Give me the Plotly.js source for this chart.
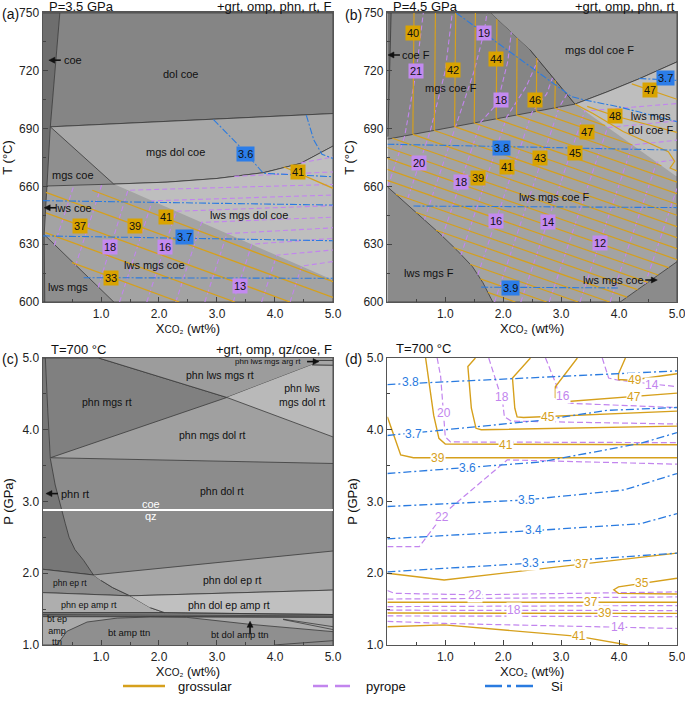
<!DOCTYPE html>
<html>
<head>
<meta charset="utf-8">
<script src="https://cdn.plot.ly/plotly-3.0.1.min.js"></script>
<style>html,body{margin:0;padding:0;background:#fff}#chart{width:685px;height:701px}</style>
</head>
<body>
<div id="chart"></div>
<script>
// ---------- (a) P = 3.5 GPa : [XCO2 wt%, T °C] ----------
var aLwsMgsCoe = [[0,600],[5,600],[5,750],[0,750]];
var aDolCoe = [[0.29,750],[5,750],[5,697.8],[0.126,690.9]];
var aMgsDolCoe = [[0.126,690.9],[5,697.8],[5,680.9],[4.44,671.9],[3.8,667.1],[3.0,664.1],[2.14,662.2],[1.22,661.2]];
var aMgsCoe = [[0.126,690.9],[1.22,661.2],[0.07,660.2]];
var aLwsMgsDolCoe = [[1.22,661.2],[2.14,662.2],[3.0,664.1],[3.8,667.1],[4.44,671.9],[5,680.9],[5,611.4]];
var aLwsMgs = [[0.02,635],[1.22,600],[0.03,600]];
var aStrip = [[0,750],[0.29,750],[0.126,690.9],[0.07,660.2],[0.02,635],[0.03,600],[0,600]];

var aGrs = [
  [[0.85,658],[5,610.5]],
  [[0.05,656.9],[5,602.4]],
  [[0.05,646.3],[4.26,600]],
  [[0.04,636],[3.31,600]],
  [[0.5,620.4],[2.35,600]],
  [[4.15,670.2],[5,659]]
];
var aPrp = [
  [[0.195,629.3],[0.53,660.3]],
  [[0.56,618.8],[1.01,660.6]],
  [[0.95,607.5],[1.464,658],[5,661]],
  [[1.32,600],[1.884,652.5],[5,655.5]],
  [[1.79,600],[2.296,647.1],[5,650]],
  [[2.29,600],[2.734,641.3],[5,644]],
  [[2.79,600],[3.172,635.5],[5,638.5]],
  [[3.28,600],[3.601,630],[5,633]],
  [[3.77,600],[4.03,624.3],[5,627]],
  [[4.26,600],[4.459,618.6],[5,621]],
  [[3.3,665.2],[5,667.5]],
  [[4.45,672.2],[5,675.3]]
];
var aSi = [
  [[2.94,694.7],[3.4,680.5],[3.8,666.8],[5,665]],
  [[4.54,697],[4.67,684],[4.81,676.7],[5,674.5]],
  [[0,652.6],[5,650.3]],
  [[0,634.3],[5,631.8]],
  [[0.7,612.6],[5,612.3]]
];
var aGrsLab = [['37',0.64,639.4],['39',1.59,639.6],['41',2.12,643.9],['33',1.18,612.4],['41',4.40,667.6]];
var aPrpLab = [['18',1.16,628.3],['16',2.10,628.7],['13',3.39,608.3]];
var aSiLab = [['3.6',3.49,677],['3.7',2.44,633.5]];
var aText = [['dol coe',2.37,718.2],['mgs dol coe',2.29,677.6],['mgs coe',0.52,665.9],
  ['lws mgs dol coe',3.55,645],['lws mgs coe',1.93,619.3],['lws mgs',0.43,607.9]];

// ---------- (b) P = 4.5 GPa ----------
var bLwsMgsCoeF = [[0,600],[5,600],[5,750],[0,750]];
var bMgsCoeF = [[0,750],[1.79,750],[2.46,731],[3.24,702.7],[0,684.5]];
var bMgsDolCoeF = [[1.79,750],[5,750],[5,724.6],[4.36,716],[3.79,709],[3.24,702.7],[2.46,731]];
var bLwsMgsDolCoeF = [[3.24,702.7],[3.79,709],[4.36,716],[5,724.6],[5,665]];
var bLwsMgsF = [[0,659.8],[0.45,647.7],[0.9,635.6],[1.2,626.9],[1.47,618.3],[1.65,610],[1.82,600],[0,600]];
var bCorner = [[4.02,600],[5,620.9],[5,600]];
var bStrip = [[0,750],[0.065,750],[0.01,686],[0,686]];

var bGrs = [
  [[0.46,750],[0.44,687]], [[0.83,750],[0.81,689]], [[1.18,750],[1.16,691]], [[1.52,750],[1.5,692.9]],
  [[1.89,746.7],[1.88,695]], [[2.24,737],[2.23,697]], [[2.58,726.6],[2.57,698.9]], [[2.9,715],[2.89,700.7]],
  [[2.89,700.7],[3.76,691.5]], [[2.57,698.9],[4.23,681.5]], [[2.23,697],[4.73,670.7]],
  [[1.88,695],[5,662.2]], [[1.5,692.9],[5,656.2]], [[1.16,691],[5,650.7]], [[0.81,689],[5,645]],
  [[0.44,687],[5,639.1]], [[0.087,685],[5,633.4]], [[0,680.2],[5,627.7]], [[0,674.5],[5,622]],
  [[0,668.8],[4.855,617.8]], [[0,663.1],[4.676,614]], [[0.146,655.9],[4.497,610.2]],
  [[0.49,646.6],[4.318,606.4]], [[0.84,637.2],[4.138,602.5]], [[1.14,628.3],[3.838,600]],
  [[1.43,619.6],[3.295,600]], [[1.606,612],[2.752,600]], [[1.735,605],[2.21,600]],
  [[3.24,702.7],[3.55,697.8],[4.07,688.5],[4.54,682],[4.85,678],[4.96,673],[4.88,669.5],[5,668]],
  [[3.45,701.5],[3.93,696.5],[5,688]],
  [[4.22,713.2],[5,705.2]]
];
var bPrp = [
  [[0.01,660],[0.30,686.2],[0.5,720],[0.62,750]],
  [[0.35,653.6],[0.739,688.6],[1.0,720],[1.12,750]],
  [[0.64,642.8],[1.176,691.1],[1.5,720],[1.67,740],[1.72,750]],
  [[0.95,634],[1.613,693.5],[1.9,703],[2.08,725],[2.14,740]],
  [[1.27,624.3],[2.061,696],[2.4,712],[2.6,725.5]],
  [[1.56,614],[2.498,698.5],[2.75,708],[2.85,716.3]],
  [[1.85,600],[2.967,701.1],[3.1,707.8]],
  [[2.304,600],[3.406,699.1],[5,703]],
  [[2.794,600],[3.8,690.5],[5,694]],
  [[3.324,600],[4.23,681.5],[5,684]],
  [[3.844,600],[4.65,672.5],[5,674]],
  [[4.45,609.4],[5,659]]
];
var bSi = [
  [[1.19,750],[2.2,728],[3.18,706.6],[3.41,704.8],[3.98,701.4],[5,693.6]],
  [[4.35,716],[5,715]],
  [[0,681.9],[5,678.8]],
  [[0.45,649.8],[5,649]],
  [[1.62,607.7],[3.98,607.3]]
];
var bGrsLab = [['40',0.44,739.5],['42',1.14,720.4],['44',1.87,726],['46',2.55,704.8],['47',4.53,710],
  ['48',3.93,696.5],['47',3.44,688.4],['45',3.24,677.5],['43',2.64,674.6],['41',2.07,669.9],['39',1.56,664.2]];
var bPrpLab = [['21',0.50,720.1],['19',1.67,739.8],['18',1.96,704.8],['20',0.55,672],['18',1.27,662.4],
  ['16',1.87,642.2],['14',2.77,641.7],['12',3.67,630.8]];
var bSiLab = [['3.7',4.8,716.3],['3.8',1.97,680],['3.9',2.13,607.4]];
var bText = [['mgs dol coe F',3.67,730.6],['mgs coe F',1.10,711.3],['lws mgs<br>dol coe F',4.55,693],
  ['lws mgs coe F',2.89,654.3],['lws mgs F',0.72,614.9]];

// ---------- (c) T = 700 °C : [XCO2 wt%, P GPa] ----------
var cPhnDolRt = [[0,1],[5,1],[5,5],[0,5]];
var cPhnMgsDolRt = [[0.13,3.61],[5,3.53],[5,5],[0.04,5]];
var cPhnMgsRt = [[0.13,3.61],[3.17,4.45],[0.96,5],[0.04,5]];
var cPhnLwsMgsRt = [[0.96,5],[3.17,4.45],[4.64,4.905],[4.72,4.965],[5,4.965],[5,5]];
var cPhnLwsMgsDolRt = [[3.17,4.45],[5,3.9],[5,4.9],[4.64,4.905]];
var cArgStrip = [[4.64,4.905],[5,4.9],[5,4.965],[4.72,4.965]];
var cPhnRt = [[0,5],[0.04,5],[0.08,4.3],[0.126,3.6],[0.21,3.23],[0.29,3.0],[0.385,2.69],[0.45,2.5],
  [0.55,2.33],[0.7,2.18],[0.87,1.976],[0,2.055]];
var cPhnEpRt = [[0,2.055],[0.87,1.976],[1.0,1.9],[1.2,1.8],[1.5,1.685],[0,1.73]];
var cPhnDolEpRt = [[0.87,1.976],[5,2.31],[5,1.765],[1.5,1.685],[1.2,1.8],[1.0,1.9]];
var cPhnEpAmpRt = [[0,1.73],[1.5,1.685],[1.85,1.52],[2.1,1.45],[0,1.45]];
var cPhnDolEpAmpRt = [[1.5,1.685],[5,1.765],[5,1.425],[2.1,1.45],[1.85,1.52]];
var cBt = [[0,1],[5,1],[5,1.385],[2.48,1.39],[0,1.395]];
var cBtAmpTtn = [[0.24,1],[0.41,1.19],[0.76,1.32],[1.28,1.375],[1.85,1.39],[2.48,1.385],[3.57,1.288],[5,1.186],[5,1]];
var cThin = [
  [[0,1.45],[2.1,1.45],[5,1.425]],
  [[0,1.425],[5,1.405]],
  [[0,1.405],[5,1.39]],
  [[4.14,1.36],[5,1.255]],
  [[4.14,1.355],[5,1.215]],
  [[3.98,1],[5,1.06]]
];
var cCoeQz = [[0,2.88],[5,2.88]];
var cText = [['phn lws mgs rt',3.06,4.76,10.5],['phn lws<br>mgs dol rt',4.47,4.49,10.5],['phn mgs rt',1.1,4.39,10.5],
  ['phn mgs dol rt',2.93,3.92,10.5],['phn dol rt',3.09,3.15,10.5],['phn ep rt',0.46,1.86,8.5],
  ['phn dol ep rt',3.26,1.91,10.5],['phn ep amp rt',0.8,1.56,9],['phn dol ep amp rt',3.21,1.56,10.5],
  ['bt amp ttn',1.48,1.17,9.5],['bt dol amp ttn',3.39,1.15,9.5]];

// ---------- (d) T = 700 °C isopleths ----------
var dGrs = [
  [[0,4.18],[0.1,3.95],[0.23,3.65],[0.45,3.61],[5,3.61]],
  [[0.66,5],[0.8,4.2],[0.89,3.88],[1.0,3.8],[5,3.79]],
  [[1.52,5],[1.39,4.88],[1.45,4.3],[1.53,4.02],[1.62,4.0],[5,4.05]],
  [[2.47,5],[2.16,4.72],[2.2,4.3],[2.24,4.18],[2.35,4.17],[5,4.26]],
  [[3.28,5],[2.9,4.6],[2.9,4.45],[3.06,4.39],[5,4.51]],
  [[4.11,5],[3.99,4.78],[3.99,4.7],[4.2,4.69],[5,4.78]],
  [[0,2.0],[0.98,1.906],[5,2.28]],
  [[5,1.93],[3.99,1.81],[3.91,1.77],[3.99,1.72],[5,1.71]],
  [[0,1.595],[5,1.595]],
  [[0,1.445],[5,1.44]],
  [[0,1.255],[0.98,1.28],[3.3,1.12],[4.15,1.0]]
];
var dPrp = [
  [[0.86,5],[0.92,4.74],[1.0,3.9],[1.09,3.83],[5,3.82]],
  [[1.75,5],[1.99,4.39],[2.02,4.18],[2.14,4.12],[5,4.08]],
  [[2.73,5],[2.92,4.62],[2.95,4.42],[3.1,4.37],[5,4.31]],
  [[3.71,5],[3.82,4.72],[3.99,4.69],[5,4.6]],
  [[0,2.37],[0.55,2.37],[1.0,2.85],[2.07,3.58],[5,3.52]],
  [[0,1.76],[0.12,1.72],[1.5,1.7],[5,1.74]],
  [[0,1.64],[5,1.67]],
  [[0,1.535],[5,1.55]],
  [[0,1.485],[5,1.48]],
  [[0,1.405],[5,1.395]],
  [[0,1.33],[1.0,1.3],[5,1.23]]
];
var dSi = [
  [[0,4.63],[2.5,4.73],[5,4.82]],
  [[0,3.92],[2.64,4.13],[3.79,4.27],[5,4.31]],
  [[0,3.39],[2.64,3.55],[4.37,3.81],[5,3.96]],
  [[0,2.93],[2.36,3.02],[4.08,3.16],[5,3.39]],
  [[0,2.48],[2.64,2.6],[4.37,2.69],[5,2.83]],
  [[0,2.02],[2.47,2.14],[5,2.28]]
];
var dGrsLab = [['39',0.88,3.61],['41',2.04,3.79],['45',2.78,4.18],['47',4.25,4.46],['49',4.28,4.69],
  ['37',3.36,2.13],['35',4.4,1.865],['37',3.51,1.595],['39',3.76,1.44],['41',3.3,1.12]];
var dPrpLab = [['20',0.97,4.24],['18',1.98,4.45],['16',3.04,4.47],['14',4.57,4.62],['22',0.94,2.78],
  ['22',1.52,1.70],['18',2.18,1.482],['14',3.99,1.25]];
var dSiLab = [['3.8',0.4,4.67],['3.7',0.45,3.94],['3.6',1.38,3.47],['3.5',2.41,3.02],['3.4',2.53,2.6],['3.3',2.47,2.14]];

// ---------- styles ----------
var GRS = '#d6a01c', PRP = '#c285ee', SI = '#2a7be0';
var GRS_BOX = '#d9a300', PRP_BOX = '#c38af0', SI_BOX = '#2b7de9';
var EDGE = '#3a3a3a';
var FONT = 'Liberation Sans, Arial, sans-serif';

var traces = [];
var ann = [];
var shapes = [];

function field(pts, ax, color) {
  traces.push({x: pts.map(function(p){return p[0];}), y: pts.map(function(p){return p[1];}),
    xaxis: 'x' + ax, yaxis: 'y' + ax, mode: 'lines', fill: 'toself', fillcolor: color,
    line: {color: EDGE, width: 0.8}, hoverinfo: 'skip', showlegend: false});
}
function lines(list, ax, color, width, dash) {
  list.forEach(function(pts) {
    traces.push({x: pts.map(function(p){return p[0];}), y: pts.map(function(p){return p[1];}),
      xaxis: 'x' + ax, yaxis: 'y' + ax, mode: 'lines',
      line: {color: color, width: width, dash: dash}, hoverinfo: 'skip', showlegend: false});
  });
}
function boxes(list, ax, bg) {
  list.forEach(function(l) {
    ann.push({text: l[0], x: l[1], y: l[2], xref: 'x' + ax, yref: 'y' + ax, showarrow: false,
      bgcolor: bg, borderpad: 1, font: {size: 11, color: '#111'}});
  });
}
function inline(list, ax, color) {
  list.forEach(function(l) {
    ann.push({text: l[0], x: l[1], y: l[2], xref: 'x' + ax, yref: 'y' + ax, showarrow: false,
      bgcolor: '#ffffff', borderpad: 0, font: {size: 12, color: color}});
  });
}
function texts(list, ax) {
  list.forEach(function(l) {
    ann.push({text: l[0], x: l[1], y: l[2], xref: 'x' + ax, yref: 'y' + ax, showarrow: false,
      font: {size: l[3] || 11, color: '#111'}});
  });
}
function leftText(t, x, y, ax, size, color) {
  ann.push({text: t, x: x, y: y, xref: 'x' + ax, yref: 'y' + ax, showarrow: false, xanchor: 'left',
    font: {size: size || 11, color: color || '#111'}});
}
// small black pointer: head at (x, y), drawn in pixel offsets from that point
var ARROW_PATHS = {
  left:  ['M0,0 L6,3 L6,-3 Z', 'M5,0 L12,0'],
  right: ['M0,0 L-6,3 L-6,-3 Z', 'M-5,0 L-12,0'],
  up:    ['M0,0 L-3,-6 L3,-6 Z', 'M0,-5 L0,-13']
};
function arrow(ax, x, y, dir) {
  var p = ARROW_PATHS[dir];
  var base = {type: 'path', xref: 'x' + ax, yref: 'y' + ax, xsizemode: 'pixel', ysizemode: 'pixel',
    xanchor: x, yanchor: y, layer: 'above'};
  shapes.push(Object.assign({}, base, {path: p[0], fillcolor: '#111', line: {color: '#111', width: 0.5}}));
  shapes.push(Object.assign({}, base, {path: p[1], line: {color: '#111', width: 1.6}}));
}
function paperText(t, x, y, xanchor, size) {
  ann.push({text: t, x: x, y: y, xref: 'paper', yref: 'paper', xanchor: xanchor, yanchor: 'middle',
    showarrow: false, font: {size: size || 13, color: '#111'}});
}

// panel a
field(aLwsMgsCoe, '', '#a3a3a3');
field(aDolCoe, '', '#858585');
field(aMgsDolCoe, '', '#a8a8a8');
field(aMgsCoe, '', '#8f8f8f');
field(aLwsMgsDolCoe, '', '#bebebe');
field(aLwsMgs, '', '#8e8e8e');
field(aStrip, '', '#6e6e6e');
lines(aPrp, '', PRP, 1.1, '5px,3px');
lines(aGrs, '', GRS, 1.3, 'solid');
lines(aSi, '', SI, 1.1, '7px,2px,2px,2px');
boxes(aGrsLab, '', GRS_BOX); boxes(aPrpLab, '', PRP_BOX); boxes(aSiLab, '', SI_BOX);
texts(aText, '');
leftText('coe', 0.32, 725.5, ''); arrow('', 0.1, 725.5, 'left');
leftText('lws coe', 0.18, 648.9, ''); arrow('', 0.02, 648.9, 'left');

// panel b
field(bLwsMgsCoeF, '2', '#a3a3a3');
field(bMgsCoeF, '2', '#858585');
field(bMgsDolCoeF, '2', '#999999');
field(bLwsMgsDolCoeF, '2', '#bebebe');
field(bLwsMgsF, '2', '#8b8b8b');
field(bCorner, '2', '#8b8b8b');
field(bStrip, '2', '#6e6e6e');
lines(bPrp, '2', PRP, 1.1, '5px,3px');
lines(bGrs, '2', GRS, 1.2, 'solid');
lines(bSi, '2', SI, 1.1, '7px,2px,2px,2px');
boxes(bGrsLab, '2', GRS_BOX); boxes(bPrpLab, '2', PRP_BOX); boxes(bSiLab, '2', SI_BOX);
texts(bText, '2');
leftText('coe F', 0.21, 728.2, '2'); arrow('2', 0.01, 728.2, 'left');
texts([['lws mgs coe', 3.9, 611.4]], '2'); arrow('2', 4.66, 611.4, 'right');

// panel c
field(cPhnDolRt, '3', '#8c8c8c');
field(cPhnMgsDolRt, '3', '#a0a0a0');
field(cPhnMgsRt, '3', '#808080');
field(cPhnLwsMgsRt, '3', '#9c9c9c');
field(cPhnLwsMgsDolRt, '3', '#b9b9b9');
field(cArgStrip, '3', '#a6a6a6');
field(cPhnRt, '3', '#777777');
field(cPhnEpRt, '3', '#8d8d8d');
field(cPhnDolEpRt, '3', '#a6a6a6');
field(cPhnEpAmpRt, '3', '#aeaeae');
field(cPhnDolEpAmpRt, '3', '#c0c0c0');
field(cBt, '3', '#aaaaaa');
field(cBtAmpTtn, '3', '#8f8f8f');
lines(cThin, '3', EDGE, 0.8, 'solid');
lines([cCoeQz], '3', '#ffffff', 2, 'solid');
texts(cText, '3');
ann.push({text: 'coe', x: 1.87, y: 2.96, xref: 'x3', yref: 'y3', showarrow: false, font: {size: 11, color: '#fff'}});
ann.push({text: 'qz', x: 1.87, y: 2.80, xref: 'x3', yref: 'y3', showarrow: false, font: {size: 11, color: '#fff'}});
leftText('phn lws mgs arg rt', 3.27, 4.95, '3', 8);
arrow('3', 4.76, 4.95, 'right');
leftText('phn rt', 0.27, 3.11, '3', 11); arrow('3', 0.05, 3.11, 'left');
leftText('bt ep<br>amp<br>ttn', 0.04, 1.2, '3', 9);
arrow('3', 3.57, 1.33, 'up');

// panel d
lines(dPrp, '4', PRP, 1.2, '6px,3px');
lines(dGrs, '4', GRS, 1.4, 'solid');
lines(dSi, '4', SI, 1.3, '8px,3px,2px,3px');
inline(dGrsLab, '4', GRS); inline(dPrpLab, '4', PRP); inline(dSiLab, '4', SI);

// headers and panel letters
paperText('(a)', 0.0, 1 - 14/701, 'left', 14);
paperText('(b)', 0.5, 1 - 15/701, 'left', 14);
paperText('(c)', 0.0, 1 - 359/701, 'left', 14);
paperText('(d)', 0.5, 1 - 359/701, 'left', 14);
paperText('P=3.5 GPa', 0.068, 1 - 7/701, 'left', 13);
paperText('+grt, omp, phn, rt, F', 0.487, 1 - 7/701, 'right', 13);
paperText('P=4.5 GPa', 0.571, 1 - 7/701, 'left', 13);
paperText('+grt, omp, phn, rt', 0.989, 1 - 7/701, 'right', 13);
paperText('T=700 °C', 0.072, 1 - 349/701, 'left', 13);
paperText('+grt, omp, qz/coe, F', 0.487, 1 - 349/701, 'right', 13);
paperText('T=700 °C', 0.575, 1 - 348/701, 'left', 13);

// legend
var legY = 1 - 686/701;
shapes.push({type: 'line', xref: 'paper', yref: 'paper', x0: 123/685, x1: 165/685, y0: legY, y1: legY, line: {color: GRS, width: 2.5}});
shapes.push({type: 'line', xref: 'paper', yref: 'paper', x0: 313/685, x1: 355/685, y0: legY, y1: legY, line: {color: PRP, width: 2.5, dash: '15px,7px'}});
shapes.push({type: 'line', xref: 'paper', yref: 'paper', x0: 485/685, x1: 538/685, y0: legY, y1: legY, line: {color: SI, width: 2.5, dash: '17px,5px,4px,5px'}});
paperText('grossular', 176/685, legY, 'left', 13);
paperText('pyrope', 364/685, legY, 'left', 13);
paperText('Si', 549/685, legY, 'left', 13);

var XT = 'X<span style="font-size:10px">CO₂</span> (wt%)';
function xa(dom, anchor) {
  return {domain: dom, anchor: anchor, range: [0, 5], tickmode: 'array', tickvals: [1,2,3,4,5],
    ticktext: ['1.0','2.0','3.0','4.0','5.0'], ticks: 'inside', ticklen: 5, tickcolor: '#444',
    ticklabeloverflow: 'allow',
    minor: {tickmode: 'linear', tick0: 0, dtick: 0.5, ticks: 'inside', ticklen: 3, tickcolor: '#444'},
    showline: true, linecolor: '#555', linewidth: 1.5, mirror: true, showgrid: false, zeroline: false,
    tickfont: {size: 12, color: '#222'}, title: {text: XT, font: {size: 13, color: '#111'}, standoff: 2}};
}
function ya(dom, anchor, temp) {
  var o = {domain: dom, anchor: anchor, ticks: 'inside', ticklen: 5, tickcolor: '#444',
    ticklabeloverflow: 'allow',
    showline: true, linecolor: '#555', linewidth: 1.5, mirror: true, showgrid: false, zeroline: false,
    tickfont: {size: 12, color: '#222'}};
  if (temp) {
    o.range = [600, 750]; o.tickmode = 'array'; o.tickvals = [600,630,660,690,720,750];
    o.minor = {tickmode: 'linear', tick0: 600, dtick: 15, ticks: 'inside', ticklen: 3, tickcolor: '#444'};
    o.title = {text: 'T (°C)', font: {size: 13, color: '#111'}, standoff: 6};
  } else {
    o.range = [1, 5]; o.tickmode = 'array'; o.tickvals = [1,2,3,4,5];
    o.ticktext = ['1.0','2.0','3.0','4.0','5.0'];
    o.minor = {tickmode: 'linear', tick0: 1, dtick: 0.5, ticks: 'inside', ticklen: 3, tickcolor: '#444'};
    o.title = {text: 'P (GPa)', font: {size: 13, color: '#111'}, standoff: 6};
  }
  return o;
}

var domTop = [0.5692, 0.9815], domBot = [0.0799, 0.4893];
var domLeft = [0.0628, 0.4861], domRight = [0.5655, 0.9883];
var layout = {
  width: 685, height: 701, margin: {l: 0, r: 0, t: 0, b: 0},
  paper_bgcolor: '#ffffff', plot_bgcolor: 'rgba(0,0,0,0)',
  font: {family: FONT, color: '#111'}, showlegend: false,
  xaxis: xa(domLeft, 'y'), yaxis: ya(domTop, 'x', true),
  xaxis2: xa(domRight, 'y2'), yaxis2: ya(domTop, 'x2', true),
  xaxis3: xa(domLeft, 'y3'), yaxis3: ya(domBot, 'x3', false),
  xaxis4: xa(domRight, 'y4'), yaxis4: ya(domBot, 'x4', false),
  annotations: ann, shapes: shapes
};
Plotly.newPlot('chart', traces, layout, {staticPlot: true});
</script>
</body>
</html>
